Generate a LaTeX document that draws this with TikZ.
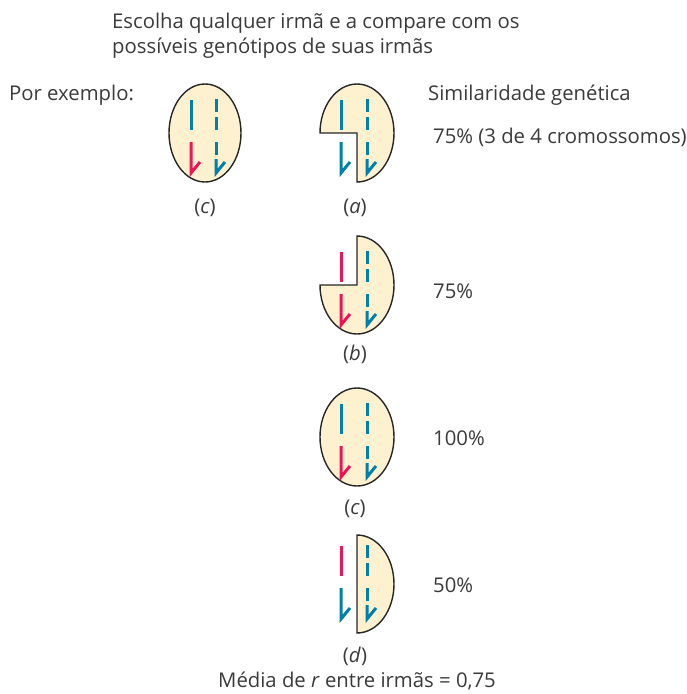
\documentclass[tikz,border=0pt]{standalone}
\usepackage{fontspec}
\setmainfont{Open Sans}
\definecolor{cellfill}{HTML}{FDF1CF}
\definecolor{chromblue}{HTML}{007FA8}
\definecolor{chromred}{HTML}{EC1656}
\definecolor{inktext}{HTML}{3A3A3A}
\tikzset{
  x=1pt,y=1pt,
  cellwall/.style={draw=black!85,fill=cellfill,line width=1.4pt,line join=miter},
  chrom/.style={line width=3pt,line cap=butt,line join=miter},
  caption/.style={text=inktext,font=\fontsize{20.3}{23}\selectfont,inner sep=0pt,anchor=mid west},
  tag/.style={text=inktext,font=\fontsize{20.3}{23}\selectfont,inner sep=0pt,anchor=mid},
}
% Solid homolog: upper bar plus lower bar with a hooked end
\newcommand{\solidpair}[4]{%
  \draw[chrom,#3] (#1,33+#2) -- (#1,3+#2);
  \draw[chrom,#4] (#1,-9+#2) -- (#1,-40+#2) -- (#1+9,-29+#2);
}
% Dashed homolog in blue: two dashes above, dash and hooked dash below
\newcommand{\dashedpair}[2]{%
  \draw[chrom,chromblue] (#1,34+#2) -- (#1,21+#2);
  \draw[chrom,chromblue] (#1,16+#2) -- (#1,3+#2);
  \draw[chrom,chromblue] (#1,-9+#2) -- (#1,-22+#2);
  \draw[chrom,chromblue] (#1,-26+#2) -- (#1,-40+#2) -- (#1+9,-29+#2);
}
\begin{document}
\begin{tikzpicture}
\useasboundingbox (0,0) rectangle (687,-694);

% Headings
\node[caption] (head1) at (112,-26) {Escolha qualquer irmã e a compare com os};
\node[caption] (head2) at (112,-51) {possíveis genótipos de suas irmãs};
\node[caption] (example) at (9,-98) {Por exemplo:};
\node[caption] (simtitle) at (428,-98) {Similaridade genética};

% Reference cell, whole ellipse
\begin{scope}[shift={(205,-133)}]
  \draw[cellwall] (0,0) ellipse [x radius=36,y radius=49];
  \solidpair{-14}{0}{chromblue}{chromred}
  \dashedpair{11}{0}
\end{scope}
\node[tag] (lc1) at (205,-211) {(\textit{c})};

% Cell a: lower-left quadrant removed
\begin{scope}[shift={(357,-133)}]
  \draw[cellwall] (-37,0) arc [start angle=180,end angle=-90,x radius=37,y radius=49] -- (0,0) -- cycle;
  \solidpair{-16}{0}{chromblue}{chromblue}
  \dashedpair{10}{0}
\end{scope}
\node[tag] (la) at (355,-211) {(\textit{a})};
\node[caption] (pa) at (433,-141) {75\% (3 de 4 cromossomos)};

% Cell b: upper-left quadrant removed
\begin{scope}[shift={(357,-285)}]
  \draw[cellwall] (0,49) arc [start angle=90,end angle=-180,x radius=37,y radius=49] -- (0,0) -- cycle;
  \solidpair{-16}{0}{chromred}{chromred}
  \dashedpair{10}{0}
\end{scope}
\node[tag] (lb) at (355,-358) {(\textit{b})};
\node[caption] (pb) at (433,-296) {75\%};

% Cell c: whole ellipse
\begin{scope}[shift={(357,-437)}]
  \draw[cellwall] (0,0) ellipse [x radius=37,y radius=49];
  \solidpair{-16}{0}{chromblue}{chromred}
  \dashedpair{10}{0}
\end{scope}
\node[tag] (lc2) at (355,-512) {(\textit{c})};
\node[caption] (pc) at (433,-443) {100\%};

% Cell d: left half removed
\begin{scope}[shift={(357,-584)}]
  \draw[cellwall] (0,49) arc [start angle=90,end angle=-90,x radius=37,y radius=49] -- cycle;
  \solidpair{-16}{5}{chromred}{chromblue}
  \dashedpair{10}{5}
\end{scope}
\node[tag] (ld) at (355,-660) {(\textit{d})};
\node[caption] (pd) at (433,-590) {50\%};

\node[tag] (mean) at (357,-685) {Média de \textit{r} entre irmãs = 0,75};
\end{tikzpicture}
\end{document}
